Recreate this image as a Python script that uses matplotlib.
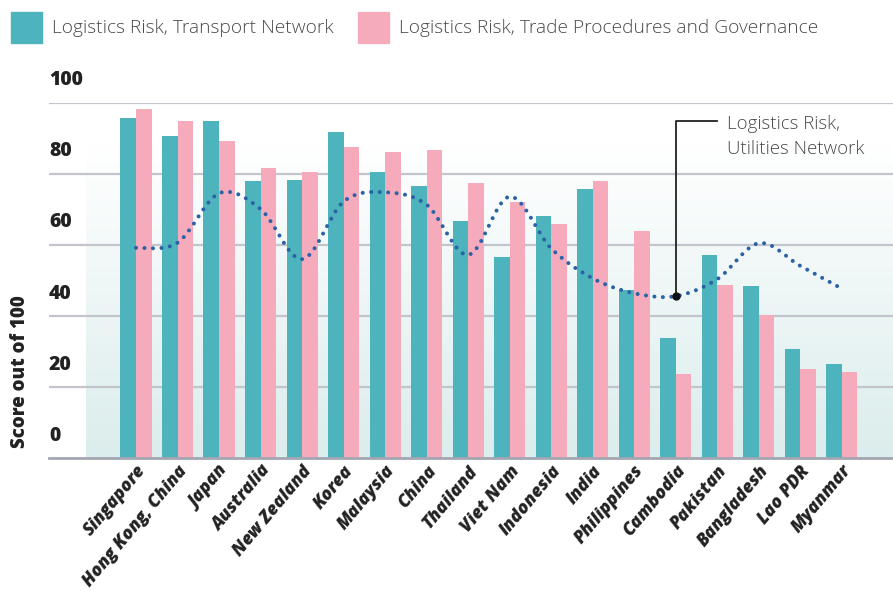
"""Logistics risk scores by economy: transport, trade procedures and utilities."""
import matplotlib
matplotlib.use("Agg")
import matplotlib.pyplot as plt
import numpy as np
from matplotlib.colors import LinearSegmentedColormap
from matplotlib.patches import PathPatch, Rectangle
from matplotlib.path import Path

countries = ["Singapore", "Hong Kong, China", "Japan", "Australia", "New Zealand",
             "Korea", "Malaysia", "China", "Thailand", "Viet Nam", "Indonesia",
             "India", "Philippines", "Cambodia", "Pakistan", "Bangladesh",
             "Lao PDR", "Myanmar"]
transport = [95.7, 90.6, 94.9, 78.0, 78.3, 91.8, 80.5, 76.6, 66.8, 56.6, 68.1,
             75.7, 47.4, 33.9, 57.2, 48.5, 30.7, 26.5]
trade = [98.2, 94.9, 89.2, 81.6, 80.5, 87.5, 86.2, 86.7, 77.4, 72.1, 65.9,
         78.0, 63.9, 23.7, 48.8, 40.3, 25.1, 24.3]
utilities = [59.2, 60.6, 74.5, 70.1, 56.0, 72.2, 74.8, 71.3, 57.2, 73.6, 59.0,
             50.6, 46.4, 45.6, 50.4, 60.5, 54.1, 47.7]
yticks = [0, 20, 40, 60, 80, 100]

TEAL, PINK, DOTS = "#4db3bd", "#f5abbb", "#2b62a6"
GRID, BASE, INK, LIGHT = "#c4c5cc", "#a4a6b2", "#222222", "#4a4a4a"
LIGHT_FONT = "Open Sans"

fig = plt.figure(figsize=(8.93, 5.91), dpi=100)
ax = fig.add_axes([49 / 893, 1 - 458.3 / 591, 1 - 49 / 893, (458.3 - 102.7) / 591])
x = np.arange(len(countries))
ax.set_xlim(-2.095, 18.23)
ax.set_ylim(0, 100)

# soft vertical wash behind the bars
wash = LinearSegmentedColormap.from_list("wash", ["#dbedec", "#ffffff"])
grad = np.linspace(0, 1, 256).reshape(-1, 1)
ax.imshow(grad, cmap=wash, origin="lower", aspect="auto",
          extent=(-1.2, 18.4, 0, 88), zorder=0)

for v in yticks[1:]:
    ax.axhline(v, color=GRID, lw=1.6, zorder=1)
ax.axhline(0, color=BASE, lw=2, zorder=3, clip_on=False)

w = 0.375
ax.bar(x - w / 2, transport, w, color=TEAL, zorder=2)
ax.bar(x + w / 2, trade, w, color=PINK, zorder=2)

# utilities line, smoothed through the points with bezier segments
pts = np.column_stack([x, utilities]).astype(float)
verts, codes = [pts[0]], [Path.MOVETO]
for i in range(len(pts) - 1):
    p0 = pts[max(i - 1, 0)]
    p1, p2 = pts[i], pts[i + 1]
    p3 = pts[min(i + 2, len(pts) - 1)]
    verts += [p1 + (p2 - p0) / 6, p2 - (p3 - p1) / 6, p2]
    codes += [Path.CURVE4] * 3
ax.add_patch(PathPatch(Path(verts, codes), fill=False, ec=DOTS, lw=2.9,
                       ls=(0, (0.01, 2.1)), capstyle="round", zorder=4))

# callout for the utilities line
ci = countries.index("Cambodia")
ax.plot([ci, ci, ci + 0.99], [utilities[ci], 94.9, 94.9], color="#222222",
        lw=1.3, zorder=5)
ax.plot(ci, utilities[ci], "o", color="#111111", ms=5, zorder=6)
ax.text(ci + 1.23, 90.4, "Logistics Risk,\nUtilities Network", ha="left", va="center",
        fontsize=13.4, color=LIGHT, family=LIGHT_FONT, weight="light",
        linespacing=1.5, zorder=6)

ax.set_xticks(x)
ax.set_xticklabels(countries, rotation=50, ha="right", rotation_mode="anchor",
                   fontsize=12.8, weight="heavy", style="italic", color=INK,
                   family="Open Sans")
ax.tick_params(axis="x", length=0, pad=3)
ax.set_yticks([])
for v in yticks:
    ax.annotate(str(v), xy=(0, v), xycoords=("axes fraction", "data"),
                xytext=(0, 9), textcoords="offset points", ha="left", va="bottom",
                fontsize=14, weight="heavy", color=INK, family="Open Sans",
                annotation_clip=False)
for s in ax.spines.values():
    s.set_visible(False)

fig.text(20 / 893, 1 - 372 / 591, "Score out of 100", rotation=90, ha="center",
         va="center", fontsize=13.5, weight="heavy", color=INK, family="Open Sans")

# legend drawn by hand along the top
for x0, col, label in [(11, TEAL, "Logistics Risk, Transport Network"),
                       (358, PINK, "Logistics Risk, Trade Procedures and Governance")]:
    fig.patches.append(Rectangle((x0 / 893, 1 - 43 / 591), 31 / 893, 31 / 591,
                                 transform=fig.transFigure, color=col))
    fig.text((x0 + 41) / 893, 1 - 28 / 591, label, ha="left", va="center",
             fontsize=13.8, color=LIGHT, family=LIGHT_FONT, weight="light")

fig.savefig("out.png", dpi=100, facecolor="white")
